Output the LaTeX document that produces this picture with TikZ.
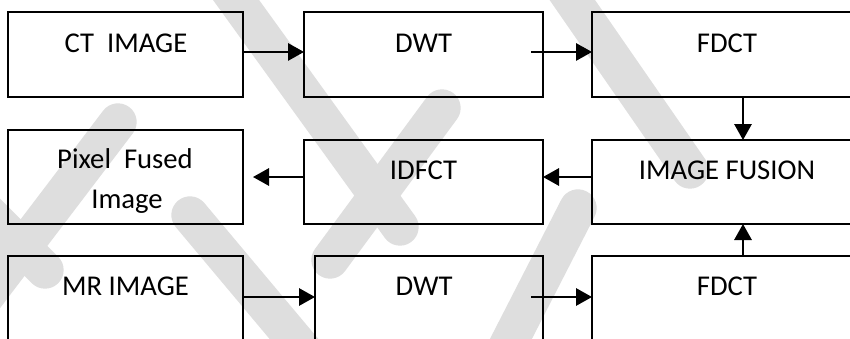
\documentclass[tikz,border=0pt]{standalone}
\usepackage{fontspec}
\setmainfont{Carlito}
\usetikzlibrary{arrows.meta}
\definecolor{wmgray}{RGB}{222,222,222}
\tikzset{
  stage/.style={draw=black, line width=1.4pt, rectangle, inner sep=0pt, outer sep=0pt},
  label/.style={anchor=base, inner sep=0pt, font=\fontsize{21.5}{30}\selectfont},
  flow/.style={line width=1.5pt, -{Triangle[length=12pt,width=13pt]}},
  band/.style={wmgray, line width=28pt, line cap=round}
}
\begin{document}
\begin{tikzpicture}[x=0.75pt,y=-0.75pt]
\clip (0,0) rectangle (850,339);
\fill[white] (0,0) rectangle (850,339);

% faint diagonal bands in the background
\draw[band] (218,-25) -- (400,227);
\draw[band] (555,-25) -- (690,170);
\draw[band] (190,215) -- (320,370);
\draw[band] (-30,195) -- (45,270);
\draw[band] (118,122) -- (-40,330);
\draw[band] (578,208) -- (495,370);
\draw[band] (442,108) -- (330,260);

% processing stages
\node[stage, minimum width=176.25pt, minimum height=63.75pt] (ct)    at (125.5,54.5) {};
\node[stage, minimum width=179.25pt, minimum height=63.75pt] (dwta)  at (423.5,54.5) {};
\node[stage, minimum width=202.5pt,  minimum height=63.75pt] (fdcta) at (727,54.5)   {};
\node[stage, minimum width=176.25pt, minimum height=70.5pt]  (pix)   at (125.5,177)  {};
\node[stage, minimum width=179.25pt, minimum height=63pt]    (idfct) at (423.5,182)  {};
\node[stage, minimum width=202.5pt,  minimum height=63pt]    (fus)   at (727,182)    {};
\node[stage, minimum width=176.25pt, minimum height=93pt]    (mr)    at (125.5,318)  {};
\node[stage, minimum width=171pt,    minimum height=93pt]    (dwtb)  at (429,318)    {};
\node[stage, minimum width=202.5pt,  minimum height=93pt]    (fdctb) at (727,318)    {};

% stage captions
\node[label] (tct)    at (126,52)   {CT\ \ IMAGE};
\node[label] (tdwta)  at (423.5,52) {DWT};
\node[label] (tfdcta) at (727,52)   {FDCT};
\node[label] (tpixa)  at (125,168)  {Pixel\ \ Fused};
\node[label] (tpixb)  at (127,208)  {Image};
\node[label] (tidfct) at (423.5,179) {IDFCT};
\node[label] (tfus)   at (727,179)  {IMAGE FUSION};
\node[label] (tmr)    at (125.5,295) {MR IMAGE};
\node[label] (tdwtb)  at (424,295)  {DWT};
\node[label] (tfdctb) at (727,295)  {FDCT};

% data flow
\draw[flow] ([yshift=1.9pt]ct.east) -- ([yshift=1.9pt]dwta.west);
\draw[flow] ([yshift=1.9pt,xshift=-9pt]dwta.east) -- ([yshift=1.9pt]fdcta.west);
\draw[flow] ([xshift=12pt]fdcta.south) -- ([xshift=12pt]fus.north);
\draw[flow] ([yshift=3.75pt]fus.west) -- ([yshift=3.75pt]idfct.east);
\draw[flow] ([yshift=3.75pt]idfct.west) -- ([xshift=7.5pt]pix.east);
\draw[flow] ([yshift=15.75pt]mr.east) -- ([yshift=15.75pt]dwtb.west);
\draw[flow] ([yshift=15.75pt,xshift=-9pt]dwtb.east) -- ([yshift=15.75pt]fdctb.west);
\draw[flow] ([xshift=12pt]fdctb.north) -- ([xshift=12pt]fus.south);
\end{tikzpicture}
\end{document}
